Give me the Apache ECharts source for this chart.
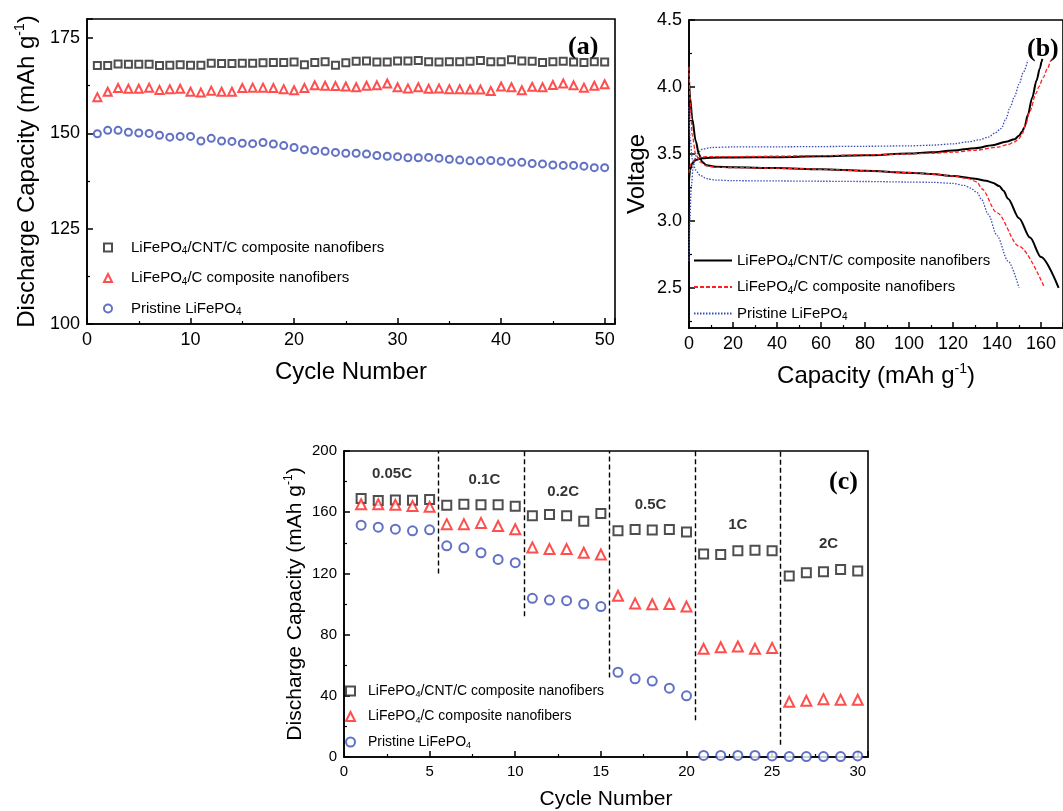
<!DOCTYPE html>
<html><head><meta charset="utf-8">
<script src="https://cdn.jsdelivr.net/npm/echarts@6/dist/echarts.min.js"></script>
<style>html,body{margin:0;padding:0;background:#fff}#c{width:1063px;height:811px}</style>
</head><body><div id="c"></div>
<script>
// ---------- Panel (a): cycling at constant rate ----------
const cyclesA = [1,2,3,4,5,6,7,8,9,10,11,12,13,14,15,16,17,18,19,20,21,22,23,24,25,26,27,28,29,30,31,32,33,34,35,36,37,38,39,40,41,42,43,44,45,46,47,48,49,50];
const cntA = [167.8,167.8,168.2,168.1,168.1,168.1,167.8,167.9,168.0,167.9,167.9,168.4,168.3,168.3,168.4,168.4,168.5,168.6,168.6,168.7,168.0,168.6,168.8,167.9,168.5,168.9,169.0,168.7,168.7,169.0,169.0,169.1,168.8,168.7,168.8,168.8,168.9,169.1,168.8,168.8,169.3,169.0,168.9,168.6,168.8,168.9,168.7,168.6,168.8,168.7];
const carbonA = [159.5,160.9,161.9,161.7,161.7,162.0,161.4,161.6,161.7,160.9,160.7,161.2,160.9,160.9,161.9,162.0,162.0,161.9,161.6,161.3,161.9,162.6,162.5,162.4,162.3,162.1,162.5,162.6,163.1,162.1,161.8,162.1,161.7,161.8,161.6,161.6,161.5,161.5,161.1,162.3,162.1,161.3,162.2,162.1,162.7,163.1,162.6,162.0,162.5,162.9];
const pristineA = [149.9,150.8,150.8,150.3,150.1,150.0,149.5,149.0,149.2,149.2,148.0,148.7,148.0,147.9,147.4,147.3,147.6,147.2,146.8,146.3,145.7,145.5,145.3,145.0,144.8,144.8,144.6,144.2,144.0,143.9,143.6,143.6,143.7,143.5,143.2,143.0,142.8,142.8,142.9,142.7,142.4,142.4,142.1,142.0,141.7,141.6,141.6,141.4,141.0,141.0];

// ---------- Panel (b): charge / discharge curves [capacity, voltage] ----------
const cntCharge = [[0,3.3],[0.5,3.38],[1.5,3.43],[3,3.455],[6,3.468],[10,3.472],[20,3.474],[40,3.476],[60,3.482],[80,3.49],[100,3.503],[110,3.512],[120,3.525],[130,3.543],[138,3.565],[144,3.59],[148,3.61],[150,3.635],[151.5,3.67],[152.5,3.70],[154,3.79],[156,3.92],[158,4.05],[159.5,4.14],[160.3,4.19],[160.6,4.21]];
const cntDischarge = [[0,4.05],[0.5,3.92],[1.5,3.76],[3,3.6],[4.5,3.5],[6,3.44],[8,3.415],[12,3.405],[20,3.40],[40,3.395],[60,3.385],[80,3.375],[100,3.36],[110,3.35],[120,3.335],[130,3.315],[135,3.3],[138,3.285],[141,3.26],[143,3.225],[145,3.165],[150,3.02],[155,2.875],[160,2.73],[168,2.5]];
const carbonCharge = [[0,3.36],[1,3.43],[3,3.465],[6,3.478],[10,3.48],[20,3.48],[40,3.483],[60,3.487],[80,3.493],[100,3.5],[110,3.505],[120,3.513],[130,3.527],[140,3.55],[145,3.57],[148,3.59],[150,3.615],[151.5,3.65],[153,3.72],[155,3.82],[157.7,3.95],[159,4.0],[161,4.07],[163,4.14],[164.6,4.2],[165,4.21]];
const carbonDischarge = [[0,4.15],[0.5,3.9],[1.5,3.64],[3,3.5],[5,3.44],[8,3.41],[12,3.4],[20,3.398],[40,3.394],[60,3.385],[80,3.374],[100,3.36],[110,3.35],[120,3.335],[127,3.315],[131,3.29],[133,3.24],[140,3.06],[150,2.81],[161.6,2.5]];
const pristineCharge = [[0,2.7],[0.4,3.0],[1,3.25],[2,3.42],[3.5,3.5],[6,3.535],[10,3.548],[20,3.552],[40,3.553],[60,3.555],[80,3.557],[100,3.56],[110,3.565],[120,3.575],[127,3.59],[132,3.605],[136,3.625],[139,3.655],[142,3.69],[144,3.76],[146,3.85],[148,3.93],[150,4.02],[152,4.11],[154,4.2]];
const pristineDischarge = [[0,3.85],[0.5,3.62],[1.5,3.46],[3,3.38],[5,3.34],[8,3.315],[12,3.305],[20,3.3],[40,3.298],[60,3.296],[80,3.294],[100,3.29],[110,3.288],[120,3.28],[125,3.265],[128,3.245],[131,3.21],[133,3.16],[136,3.05],[140,2.89],[145,2.7],[150,2.5]];

// ---------- Panel (c): rate capability ----------
const cyclesC = [1,2,3,4,5,6,7,8,9,10,11,12,13,14,15,16,17,18,19,20,21,22,23,24,25,26,27,28,29,30];
const cntC = [168.9,167.6,168.0,167.8,168.3,164.6,165.2,164.8,164.8,163.9,157.6,158.5,157.6,154.1,159.1,147.8,148.7,148.3,148.7,147.0,132.6,132.4,134.8,135.2,134.8,118.3,120.4,121.0,122.6,121.5];
const carbonC = [165.2,165.2,164.8,164.1,163.5,152.2,152.2,153.0,151.0,148.9,137.0,135.9,135.9,133.5,132.4,105.4,100.4,99.8,100.0,98.3,70.7,71.7,72.2,70.7,71.3,36.1,36.7,37.8,37.4,37.4];
const pristineC = [151.5,150.2,148.9,147.8,148.5,138.0,136.7,133.5,129.1,127.0,103.7,102.6,102.2,100.0,98.3,55.4,51.1,49.6,45.0,40.0,1.0,1.0,1.0,1.0,0.7,0.3,0.3,0.3,0.3,0.7];
const dividerX = [5.5,10.5,15.5,20.5,25.5];
const dividerBottom = [120,92,52,24,8];
const dividerTop = 200;
const rateNames = ['0.05C','0.1C','0.2C','0.5C','1C','2C'];
const rateX = [2.8,8.2,12.8,17.9,23.0,28.3];
const rateY = [185,181,173,164.6,151.5,139.6];

// tick labels
const yTicksB = [2.5,3.0,3.5,4.0,4.5];
const yMinorB = [2.25,2.75,3.25,3.75,4.25];

const LEG = {
  CNT: '{t|LiFePO}{s|4}{t|/CNT/C composite nanofibers}',
  C: '{t|LiFePO}{s|4}{t|/C composite nanofibers}',
  Pri: '{t|Pristine LiFePO}{s|4}'
};
const SANS = 'Liberation Sans';
const BLACK = '#222', RED = '#ff2222', BLUE = '#3a4db5';

function pairs(xs, ys){ return xs.map((x,i)=>[x, ys[i]]); }

function axisBase(fs){
  return {
    axisLine:{onZero:false, lineStyle:{color:'#000', width:1.6}},
    axisTick:{inside:true, length:6, lineStyle:{color:'#000', width:1.5}},
    minorTick:{show:true, splitNumber:2, length:3, lineStyle:{color:'#000', width:1.2}},
    splitLine:{show:false},
    axisLabel:{color:'#000', fontSize:fs, fontFamily:SANS, margin:7}
  };
}
function nameRich(fs){
  return {
    rich:{
      t:{fontSize:fs, fontFamily:SANS, color:'#000', lineHeight:fs+4},
      s:{fontSize:Math.round(fs*0.58), fontFamily:SANS, color:'#000', lineHeight:Math.round(fs*0.58), verticalAlign:'top'}
    }
  };
}
function legRich(fs, sp){
  return {
    rich:{
      sp:{width:sp, fontSize:fs, lineHeight:fs+3},
      t:{fontSize:fs, fontFamily:SANS, color:'#000', lineHeight:fs+3},
      s:{fontSize:Math.round(fs*0.65), fontFamily:SANS, color:'#000', lineHeight:Math.round(fs*0.65), verticalAlign:'bottom'}
    }
  };
}
const gridStyle = {show:true, borderColor:'#000', borderWidth:1.6, containLabel:false};

function scat(name, xi, yi, data, sym, size, color){
  return {name, type:'scatter', xAxisIndex:xi, yAxisIndex:yi, data, symbol:sym, symbolSize:size,
    itemStyle:{color, borderColor:color, borderWidth:1.3}, emphasis:{disabled:true}, z:3};
}
function curve(name, data, color, width, dash){
  return {name, type:'line', xAxisIndex:1, yAxisIndex:1, data, symbol:'none', smooth:0.3, smoothMonotone:'x',
    lineStyle:{color, width, type:dash}, itemStyle:{color}, emphasis:{disabled:true}, z:3};
}

const chart = echarts.init(document.getElementById('c'), null, {renderer:'canvas'});

const option = {
  animation:false,
  backgroundColor:'#fff',
  grid:[
    Object.assign({left:87, top:19, width:528, height:305}, gridStyle),
    Object.assign({left:689, top:20, width:384, height:308}, gridStyle),
    Object.assign({left:344, top:451, width:524, height:306}, gridStyle)
  ],
  xAxis:[
    Object.assign(axisBase(18), {gridIndex:0, type:'value', min:0, max:51, interval:10,
      name:'Cycle Number', nameLocation:'middle', nameGap:36, nameTextStyle:{fontSize:24, fontFamily:SANS, color:'#000'}}),
    Object.assign(axisBase(18), {gridIndex:1, type:'value', min:0, max:170, interval:20,
      name:'{t|Capacity (mAh g}{s|-1}{t|)}', nameLocation:'middle', nameGap:34, nameTextStyle:nameRich(24)}),
    Object.assign(axisBase(15), {gridIndex:2, type:'value', min:0, max:30.6, interval:5,
      name:'Cycle Number', nameLocation:'middle', nameGap:32, nameTextStyle:{fontSize:21, fontFamily:SANS, color:'#000'}})
  ],
  yAxis:[
    Object.assign(axisBase(18), {gridIndex:0, type:'value', min:100, max:180, interval:25,
      name:'{t|Discharge Capacity (mAh g}{s|-1}{t|)}', nameLocation:'middle', nameGap:46, nameTextStyle:nameRich(24)}),
    Object.assign(axisBase(18), {gridIndex:1, type:'value', min:2.2, max:4.5, position:'left',
      minorTick:{show:false},
      axisTick:{inside:true, length:6, customValues:yTicksB, lineStyle:{color:'#000', width:1.5}},
      axisLabel:{color:'#000', fontSize:18, fontFamily:SANS, margin:7, customValues:yTicksB, formatter:v=>Number(v).toFixed(1)},
      name:'Voltage', nameLocation:'middle', nameGap:40, nameTextStyle:{fontSize:24, fontFamily:SANS, color:'#000'}}),
    {gridIndex:1, type:'value', min:2.2, max:4.5, position:'left', offset:0,
      axisLine:{show:false}, axisLabel:{show:false}, splitLine:{show:false},
      axisTick:{show:true, inside:true, length:3, customValues:yMinorB, lineStyle:{color:'#000', width:1.2}}},
    Object.assign(axisBase(15), {gridIndex:2, type:'value', min:0, max:200, interval:40,
      name:'{t|Discharge Capacity (mAh g}{s|-1}{t|)}', nameLocation:'middle', nameGap:36, nameTextStyle:nameRich(21)})
  ],
  legend:[
    {left:103, top:240, orient:'vertical', padding:0, itemGap:14, itemWidth:8, itemHeight:8,
      data:['aCNT','aC','aPri'], formatter:n=>'{sp| }'+LEG[n.slice(1)], textStyle:legRich(15, 14), selectedMode:false},
    {left:693, top:253, orient:'vertical', padding:0, itemGap:10, itemWidth:38, itemHeight:1,
      data:['bCNT','bC','bPri'], formatter:n=>LEG[n.slice(1)], textStyle:legRich(15, 0), selectedMode:false},
    {left:345, top:684, orient:'vertical', padding:0, itemGap:10, itemWidth:9, itemHeight:9,
      data:['cCNT','cC','cPri'], formatter:n=>'{sp| }'+LEG[n.slice(1)], textStyle:legRich(14, 8), selectedMode:false}
  ],
  series:[
    scat('aCNT',0,0,pairs(cyclesA,cntA),'emptyRect',7,BLACK),
    scat('aC',0,0,pairs(cyclesA,carbonA),'emptyTriangle',8,RED),
    scat('aPri',0,0,pairs(cyclesA,pristineA),'emptyCircle',7,BLUE),

    curve('bCNT',cntCharge,'#000',2,'solid'),
    curve('bCNT',cntDischarge,'#000',2,'solid'),
    curve('bC',carbonCharge,'#ff2020',1.3,[4,2]),
    curve('bC',carbonDischarge,'#ff2020',1.3,[4,2]),
    curve('bPri',pristineCharge,'#3a4db5',1.3,[1.5,1.5]),
    curve('bPri',pristineDischarge,'#3a4db5',1.3,[1.5,1.5]),

    scat('cCNT',2,3,pairs(cyclesC,cntC),'emptyRect',9,BLACK),
    scat('cC',2,3,pairs(cyclesC,carbonC),'emptyTriangle',10,RED),
    scat('cPri',2,3,pairs(cyclesC,pristineC),'emptyCircle',9,BLUE),
    {type:'scatter', xAxisIndex:2, yAxisIndex:3, silent:true, symbolSize:0.1,
      data:rateNames.map((n,i)=>[rateX[i], rateY[i], n]),
      label:{show:true, position:'inside', formatter:p=>p.value[2], fontSize:15, fontWeight:'bold', fontFamily:SANS, color:'#000'},
      markLine:{silent:true, symbol:'none', label:{show:false},
        lineStyle:{color:'#000', width:1.4, type:[5,3]},
        data:dividerX.map((x,i)=>[{coord:[x, dividerBottom[i]]},{coord:[x, dividerTop]}])}}
  ],
  graphic:[
    {type:'text', left:568, top:34, style:{text:'(a)', font:'bold 26px "Liberation Serif"', fill:'#000'}},
    {type:'text', left:1027, top:36, style:{text:'(b)', font:'bold 26px "Liberation Serif"', fill:'#000'}},
    {type:'text', left:829, top:469, style:{text:'(c)', font:'bold 26px "Liberation Serif"', fill:'#000'}}
  ]
};
// hide the boundary label at the top of panel (a)
option.yAxis[0].axisLabel.formatter = v => (v % 25 === 0 ? String(v) : '');
chart.setOption(option);
</script>
</body></html>
